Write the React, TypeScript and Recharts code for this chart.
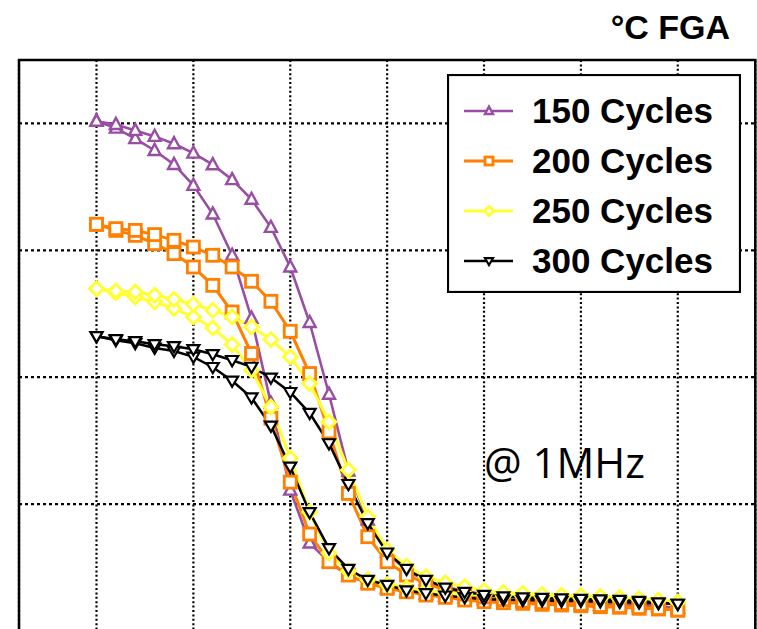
import { CartesianGrid, Legend, Line, LineChart, ReferenceArea, XAxis, YAxis } from "recharts";

// gate bias sweep, -3 V .. 3 V in 0.2 V steps
const VOLTS = [
  -3, -2.8, -2.6, -2.4, -2.2, -2, -1.8, -1.6, -1.4, -1.2, -1, -0.8, -0.6, -0.4, -0.2, 0,
  0.2, 0.4, 0.6, 0.8, 1, 1.2, 1.4, 1.6, 1.8, 2, 2.2, 2.4, 2.6, 2.8, 3,
];
const X_TICKS = [-3, -2, -1, 0, 1, 2, 3];
const Y_TICKS = [1, 2, 3, 4];

// each sample has two sweeps: "fwd" drops first, "rev" drops later
const C150_FWD = [
  4.018, 3.963, 3.88, 3.787, 3.677, 3.512, 3.286, 2.961, 2.465, 1.795, 1.11, 0.693, 0.543, 0.433, 0.378, 0.339,
  0.311, 0.291, 0.276, 0.26, 0.248, 0.24, 0.232, 0.224, 0.217, 0.213, 0.205, 0.201, 0.197, 0.189, 0.181,
];
const C150_REV = [
  4.018, 3.992, 3.945, 3.898, 3.84, 3.766, 3.675, 3.557, 3.402, 3.181, 2.869, 2.431, 1.866, 1.26, 0.874, 0.622,
  0.472, 0.402, 0.346, 0.315, 0.291, 0.276, 0.264, 0.252, 0.244, 0.236, 0.224, 0.217, 0.209, 0.197, 0.181,
];
const C200_FWD = [
  3.205, 3.157, 3.118, 3.053, 2.974, 2.869, 2.724, 2.514, 2.187, 1.677, 1.173, 0.764, 0.546, 0.441, 0.376, 0.336,
  0.309, 0.283, 0.265, 0.244, 0.231, 0.223, 0.218, 0.21, 0.205, 0.199, 0.191, 0.187, 0.179, 0.173, 0.165,
];
const C200_REV = [
  3.205, 3.171, 3.157, 3.124, 3.079, 3.026, 2.961, 2.869, 2.756, 2.598, 2.362, 2.029, 1.569, 1.084, 0.743, 0.546,
  0.441, 0.376, 0.323, 0.291, 0.268, 0.248, 0.236, 0.224, 0.217, 0.209, 0.201, 0.193, 0.185, 0.177, 0.165,
];
const C250_FWD = [
  2.698, 2.664, 2.632, 2.593, 2.541, 2.475, 2.388, 2.257, 2.055, 1.766, 1.362, 0.937, 0.614, 0.472, 0.406, 0.366,
  0.339, 0.319, 0.303, 0.291, 0.283, 0.276, 0.272, 0.268, 0.264, 0.26, 0.256, 0.252, 0.248, 0.24, 0.228,
];
const C250_REV = [
  2.698, 2.68, 2.672, 2.646, 2.614, 2.575, 2.528, 2.475, 2.396, 2.297, 2.16, 1.95, 1.648, 1.268, 0.9, 0.638,
  0.512, 0.428, 0.38, 0.349, 0.317, 0.304, 0.297, 0.289, 0.283, 0.278, 0.272, 0.264, 0.256, 0.244, 0.228,
];
const C300_FWD = [
  2.323, 2.291, 2.268, 2.231, 2.207, 2.16, 2.079, 1.972, 1.839, 1.617, 1.294, 0.935, 0.651, 0.488, 0.402, 0.362,
  0.319, 0.297, 0.278, 0.265, 0.25, 0.248, 0.244, 0.24, 0.236, 0.236, 0.232, 0.228, 0.223, 0.218, 0.213,
];
const C300_REV = [
  2.323, 2.299, 2.283, 2.26, 2.244, 2.22, 2.181, 2.134, 2.081, 1.996, 1.882, 1.717, 1.478, 1.157, 0.848, 0.617,
  0.488, 0.402, 0.341, 0.307, 0.283, 0.272, 0.264, 0.26, 0.256, 0.252, 0.248, 0.244, 0.236, 0.224, 0.213,
];

type MarkerKind = "triangleUp" | "square" | "diamond" | "triangleDown";

interface Series {
  name: string;
  color: string;
  marker: MarkerKind;
  width: number;
  fwd: number[];
  rev: number[];
}

const SERIES: Series[] = [
  { name: "150 Cycles", color: "#984EA3", marker: "triangleUp", width: 2.6, fwd: C150_FWD, rev: C150_REV },
  { name: "200 Cycles", color: "#FF7F00", marker: "square", width: 3, fwd: C200_FWD, rev: C200_REV },
  { name: "250 Cycles", color: "#FFFF33", marker: "diamond", width: 3, fwd: C250_FWD, rev: C250_REV },
  { name: "300 Cycles", color: "#000000", marker: "triangleDown", width: 2.5, fwd: C300_FWD, rev: C300_REV },
];

const chartData = VOLTS.map((v, i) => {
  const row: Record<string, number> = { v };
  SERIES.forEach((s, j) => {
    row[`s${j}a`] = s.fwd[i];
    row[`s${j}b`] = s.rev[i];
  });
  return row;
});

function MarkerShape({ kind, cx, cy, color, r }: { kind: MarkerKind; cx: number; cy: number; color: string; r: number }) {
  const common = { fill: "#fff", stroke: color, strokeWidth: 2.4, strokeLinejoin: "miter" as const };
  if (kind === "square") return <rect x={cx - r} y={cy - r} width={r * 2} height={r * 2} {...common} strokeWidth={2.8} />;
  if (kind === "diamond")
    return <path d={`M${cx},${cy - r * 1.15}L${cx + r * 1.15},${cy}L${cx},${cy + r * 1.15}L${cx - r * 1.15},${cy}Z`} {...common} strokeWidth={2.8} />;
  if (kind === "triangleUp")
    return <path d={`M${cx},${cy - r * 1.1}L${cx + r},${cy + r * 0.75}L${cx - r},${cy + r * 0.75}Z`} {...common} />;
  return <path d={`M${cx},${cy + r}L${cx + r},${cy - r * 0.7}L${cx - r},${cy - r * 0.7}Z`} {...common} strokeWidth={2.2} />;
}

function LegendBox() {
  return (
    <svg width={294} height={219} style={{ display: "block" }}>
      <rect x={1} y={1} width={292} height={217} fill="#fff" stroke="#000" strokeWidth={2.2} />
      {SERIES.map((s, i) => {
        const y = 37 + i * 50;
        return (
          <g key={s.name}>
            <line x1={17} x2={66} y1={y} y2={y} stroke={s.color} strokeWidth={s.width} />
            <MarkerShape kind={s.marker} cx={42} cy={y} color={s.color} r={4} />
            <text x={85} y={y + 12} fontFamily="'Liberation Sans', Arial, sans-serif" fontWeight="bold" fontSize={35} fill="#000">
              {s.name}
            </text>
          </g>
        );
      })}
    </svg>
  );
}

// ticks are cut off in the source figure; keep them computed (for the grid) but draw nothing
const HiddenTick = () => <g />;

export default function App() {
  return (
    <div style={{ position: "absolute", left: 0, top: 0, width: 757, height: 629, overflow: "hidden", background: "#fff" }}>
      <LineChart width={757} height={640} data={chartData} margin={{ top: 60, right: 1.7, bottom: 9, left: 19 }}>
        <XAxis
          type="number"
          dataKey="v"
          domain={[-3.8, 3.8]}
          ticks={X_TICKS}
          height={0}
          tick={HiddenTick}
          axisLine={false}
          tickLine={false}
          allowDataOverflow
        />
        <YAxis
          type="number"
          domain={[0, 4.5]}
          ticks={Y_TICKS}
          width={0}
          tick={HiddenTick}
          axisLine={false}
          tickLine={false}
          allowDataOverflow
        />
        <CartesianGrid horizontal={false} stroke="#000" strokeWidth={2.2} strokeDasharray="2 2.4" />
        <CartesianGrid vertical={false} stroke="#000" strokeWidth={2.2} strokeDasharray="3 3" />
        <ReferenceArea x1={-3.8} x2={3.8} y1={0} y2={4.5} fill="none" stroke="#000" strokeWidth={2.5} ifOverflow="visible" />
        {SERIES.flatMap((s, j) =>
          ["a", "b"].map((branch) => (
            <Line
              key={`s${j}${branch}`}
              dataKey={`s${j}${branch}`}
              name={s.name}
              stroke={s.color}
              strokeWidth={s.width}
              legendType={branch === "a" ? "line" : "none"}
              isAnimationActive={false}
              activeDot={false}
              dot={(p: { cx?: number; cy?: number; index?: number }) => (
                <MarkerShape key={`m${j}${branch}${p.index}`} kind={s.marker} cx={p.cx ?? 0} cy={p.cy ?? 0} color={s.color} r={6} />
              )}
            />
          ))
        )}
        <Legend
          layout="horizontal"
          verticalAlign="middle"
          align="center"
          content={() => <LegendBox />}
          wrapperStyle={{ position: "absolute", left: 447, top: 74, width: 294, height: 219 }}
        />
      </LineChart>
      <svg width={757} height={629} style={{ position: "absolute", left: 0, top: 0, pointerEvents: "none" }}>
        <text x={730} y={39} textAnchor="end" fontFamily="'Liberation Sans', Arial, sans-serif" fontWeight="bold" fontSize={34}>
          °C FGA
        </text>
        <text x={484} y={478} fontFamily="'Open Sans', sans-serif" fontSize={42}>
          @ 1MHz
        </text>
      </svg>
    </div>
  );
}
